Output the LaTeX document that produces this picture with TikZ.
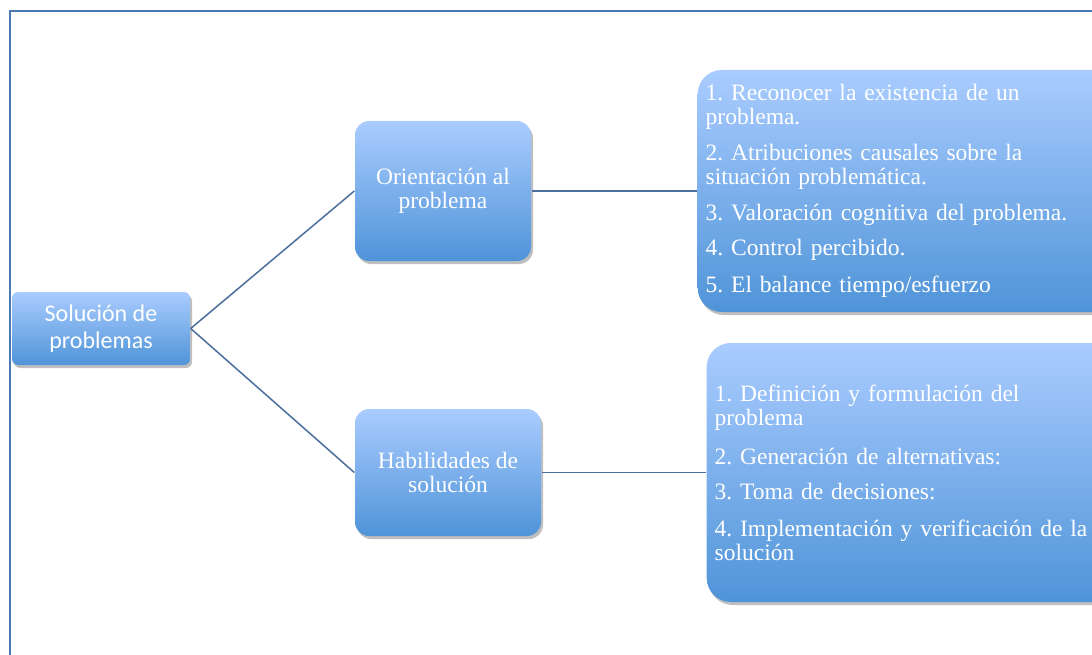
\documentclass[tikz,border=0pt]{standalone}
\usepackage{fontspec}
\setmainfont{Liberation Serif}
\newfontfamily\calibri{Carlito}
\usetikzlibrary{shadows}
\frenchspacing

\begin{document}
\begin{tikzpicture}[x=1pt,y=-1pt, line width=1.4pt,
    box/.style={
                rounded corners=6pt,
                top color=boxtop,
                bottom color=boxbot,
                draw=none,
                text=white,
                align=center,
                inner sep=0pt,
                drop shadow={opacity=0.5, shadow xshift=2pt, shadow yshift=-3pt}
              },
    link/.style={draw=linkcolor, line width=1.5pt}]
            % Define colors
            \definecolor{boxtop}{RGB}{170, 204, 255}
            \definecolor{boxbot}{RGB}{79, 148, 216}
            \definecolor{linkcolor}{RGB}{74, 111, 156}
            \definecolor{framecolor}{RGB}{74, 120, 176}

        \useasboundingbox (0,0) rectangle (1092,655);
        \clip (0,0) rectangle (1092,655);
        \fill[white] (0,0) rectangle (1092,655);
        \draw[framecolor] (10,11) rectangle (1120,700);

        % left and middle boxes
        \node[box, minimum width=178pt, minimum height=73pt, font=\calibri\fontsize{24}{27}\selectfont]
            (root) at (101,328.5) {Solución de\\problemas};
        \node[box, rounded corners=14pt, minimum width=176pt, minimum height=140pt, font=\fontsize{23.5}{24}\selectfont]
            (ori) at (443,191) {Orientación al\\problema};
        \node[box, rounded corners=14pt, minimum width=186pt, minimum height=127pt, font=\fontsize{23.5}{24}\selectfont]
            (hab) at (448,472.5) {Habilidades de\\solución};

        % right boxes
        \node[box, rounded corners=24pt, anchor=west, text width=424pt, inner xsep=8pt, minimum height=242pt,
              align=left, font=\fontsize{23.5}{24}\selectfont]
            (list1) at (697,191) {1. Reconocer la existencia de un\\problema.\\[12pt]
                2. Atribuciones causales sobre la\\situación problemática.\\[12pt]
                3. Valoración cognitiva del problema.\\[11pt]
                4. Control percibido.\\[13pt]
                5. El balance tiempo/esfuerzo};
        \node[box, rounded corners=24pt, anchor=west, text width=424pt, inner xsep=8pt, minimum height=259pt,
              align=left, font=\fontsize{23.5}{24}\selectfont]
            (list2) at (706,472.5) {1. Definición y formulación del\\problema\\[15pt]
                2. Generación de alternativas:\\[11pt]
                3. Toma de decisiones:\\[13pt]
                4. Implementación y verificación de la\\solución};

        \draw[link] (root.east) -- (ori.west);
        \draw[link] (root.east) -- (hab.west);
        \draw[link] (ori.east) -- (list1.west);
        \draw[link] (hab.east) -- (list2.west);

        \end{tikzpicture}
\end{document}
